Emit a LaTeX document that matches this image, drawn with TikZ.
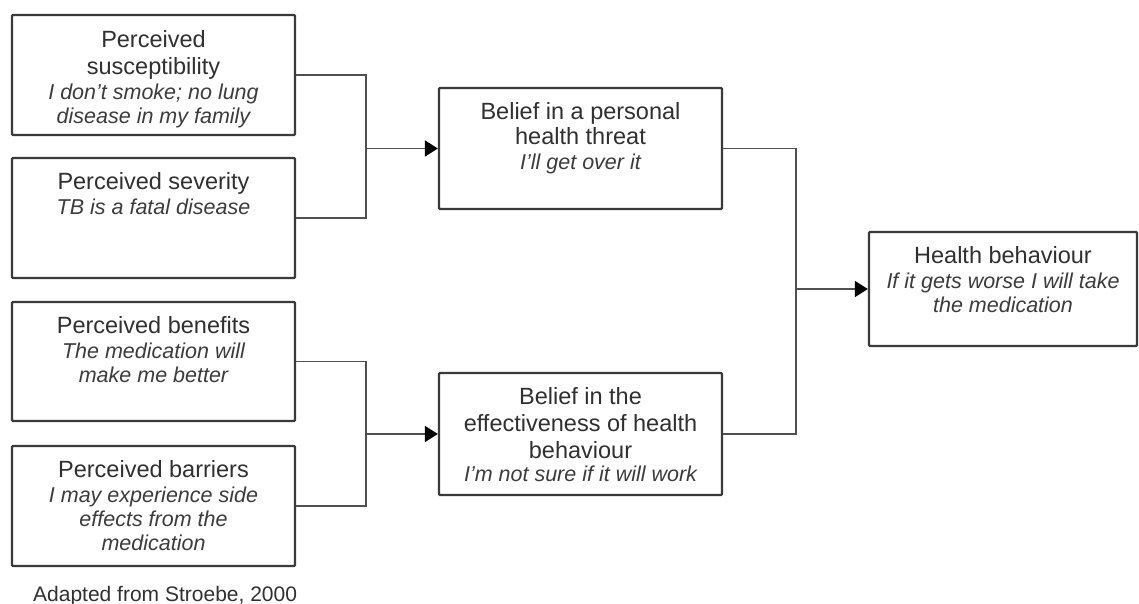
\documentclass[tikz,border=0pt]{standalone}
\usepackage{fontspec}
\setmainfont{Liberation Sans}
\usetikzlibrary{arrows.meta}
\definecolor{boxline}{HTML}{3A3A3A}
\definecolor{connline}{HTML}{505050}
\definecolor{maintext}{HTML}{303030}
\definecolor{itext}{HTML}{3C3C3C}
\newcommand{\itl}[1]{{\fontsize{21.5}{24}\selectfont\itshape\color{itext}#1}}
\begin{document}
\begin{tikzpicture}[x=1pt,y=-1pt,
  box/.style={draw=boxline, line width=2.3pt, rounded corners=1pt, inner sep=0pt, fill=white},
  txt/.style={anchor=north, inner sep=0pt, align=center, text=maintext,
    font=\fontsize{23.5}{25}\selectfont},
  conn/.style={draw=connline, line width=1.6pt},
  arr/.style={draw=connline, line width=1.6pt, -{Triangle[length=13pt,width=16pt,color=black]}}]
\useasboundingbox (0,0) rectangle (1139,604);
% left boxes
\node[box, minimum width=283pt, minimum height=120pt] (b1) at (153.5,75) {};
\node[box, minimum width=283pt, minimum height=120pt] (b2) at (153.5,218) {};
\node[box, minimum width=283pt, minimum height=119pt] (b3) at (153.5,361.5) {};
\node[box, minimum width=283pt, minimum height=120pt] (b4) at (153.5,506) {};
% middle boxes
\node[box, minimum width=283pt, minimum height=121pt] (thr) at (580.5,148.5) {};
\node[box, minimum width=283pt, minimum height=122pt] (eff) at (580.5,434) {};
% right box
\node[box, minimum width=268pt, minimum height=114pt] (hb) at (1003,289) {};
% texts
\node[txt] (b1t) at ([yshift=-16pt]b1.north) {Perceived\\[2pt]susceptibility\\\itl{I don't smoke; no lung}\\[-1pt]\itl{disease in my family}};
\node[txt] (b2t) at ([yshift=-15pt]b2.north) {Perceived severity\\\itl{TB is a fatal disease}};
\node[txt] (b3t) at ([yshift=-15pt]b3.north) {Perceived benefits\\\itl{The medication will}\\[-1pt]\itl{make me better}};
\node[txt] (b4t) at ([yshift=-15pt]b4.north) {Perceived barriers\\\itl{I may experience side}\\[-1pt]\itl{effects from the}\\[-1pt]\itl{medication}};
\node[txt] (thrt) at ([yshift=-15pt]thr.north) {Belief in a personal\\health threat\\\itl{I'll get over it}};
\node[txt] (efft) at ([yshift=-15pt]eff.north) {Belief in the\\[2pt]effectiveness of health\\[2pt]behaviour\\[-2pt]\itl{I'm not sure if it will work}};
\node[txt] (hbt) at ([yshift=-15pt]hb.north) {Health behaviour\\\itl{If it gets worse I will take}\\[-1pt]\itl{the medication}};
% caption
\node[anchor=base west, inner sep=0pt, text=maintext, font=\fontsize{21}{24}\selectfont] (cap) at (33,601) {Adapted from Stroebe, 2000};
% junction points
\path (thr.west) ++(-72,0) coordinate (j1);
\path (eff.west) ++(-72,0) coordinate (j2);
\path (hb.west) ++(-72,0) coordinate (j3);
% connectors
\draw[conn] (b1.east) -| (j1) |- (b2.east);
\draw[arr] (j1) -- (thr.west);
\draw[conn] (b3.east) -| (j2) |- (b4.east);
\draw[arr] (j2) -- (eff.west);
\draw[conn] (thr.east) -| (j3) |- (eff.east);
\draw[arr] (j3) -- (hb.west);
\end{tikzpicture}
\end{document}
